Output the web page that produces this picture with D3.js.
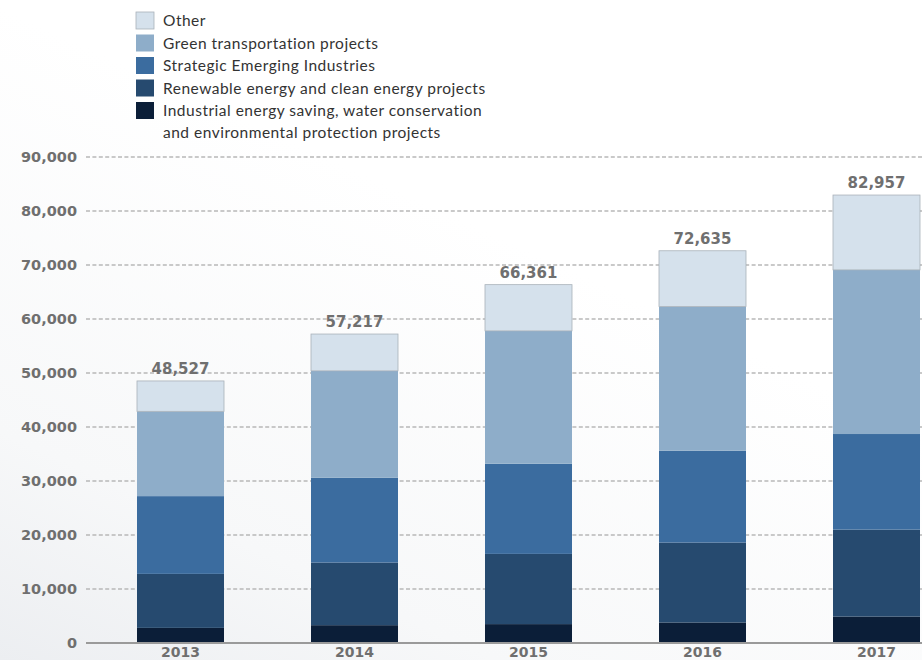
<!DOCTYPE html>
<html>
<head>
<meta charset="utf-8">
<script src="https://cdn.jsdelivr.net/npm/d3@7"></script>
<style>
  html, body { margin: 0; padding: 0; background: #ffffff; }
  svg { display: block; }
</style>
</head>
<body>
<svg id="chart" width="922" height="660"></svg>
<script>
// Years on the x axis
const years = ["2013", "2014", "2015", "2016", "2017"];

// Segment values per year, stacked bottom to top
const industrial = [2800, 3300, 3500, 3800, 4900];
const renewable  = [10000, 11600, 13000, 14800, 16100];
const strategic  = [14400, 15700, 16700, 17000, 17700];
const green      = [15700, 19800, 24600, 26700, 30400];
const other      = [5627, 6817, 8561, 10335, 13857];

// Y axis ticks
const yTicks = [0, 10000, 20000, 30000, 40000, 50000, 60000, 70000, 80000, 90000];

// Series names (bottom to top) and legend labels (top to bottom)
const seriesKeys = ["industrial", "renewable", "strategic", "green", "other"];
const legendLabels = [
  ["Other"],
  ["Green transportation projects"],
  ["Strategic Emerging Industries"],
  ["Renewable energy and clean energy projects"],
  ["Industrial energy saving, water conservation", "and environmental protection projects"]
];
const legendKeys = ["other", "green", "strategic", "renewable", "industrial"];

const colors = {
  other: "#d5e1ec",
  green: "#8eadc9",
  strategic: "#3b6c9f",
  renewable: "#264a6f",
  industrial: "#0b1e38"
};

const rows = years.map((yr, i) => ({
  year: yr,
  industrial: industrial[i],
  renewable: renewable[i],
  strategic: strategic[i],
  green: green[i],
  other: other[i]
}));

const svg = d3.select("#chart");
const W = 922, H = 660;

// soft backdrop shading
const defs = svg.append("defs");
const bg = defs.append("linearGradient").attr("id", "bg")
  .attr("x1", "0").attr("y1", "1").attr("x2", "0.45").attr("y2", "0.3");
bg.append("stop").attr("offset", "0").attr("stop-color", "#eceef1");
bg.append("stop").attr("offset", "0.35").attr("stop-color", "#f7f8f9");
bg.append("stop").attr("offset", "1").attr("stop-color", "#ffffff");
svg.append("rect").attr("width", W).attr("height", H).attr("fill", "url(#bg)");

const x = d3.scaleBand()
  .domain(years)
  .range([93.5, 963.5])
  .paddingInner(0.5)
  .paddingOuter(0.25);

const y = d3.scaleLinear()
  .domain([0, 90000])
  .range([643, 157]);

const numFont = "'DejaVu Sans', sans-serif";
const labelGrey = "#6f6f6f";

// dashed gridlines
svg.append("g")
  .selectAll("line")
  .data(yTicks.filter(d => d > 0))
  .join("line")
  .attr("x1", 86)
  .attr("x2", W)
  .attr("y1", d => y(d))
  .attr("y2", d => y(d))
  .attr("stroke", "#b8b8b8")
  .attr("stroke-width", 1.5)
  .attr("stroke-dasharray", "4,2.4");

// y axis labels
const yAxis = d3.axisLeft(y).tickValues(yTicks).tickSize(0).tickPadding(0)
  .tickFormat(d3.format(","));
const yG = svg.append("g").attr("transform", "translate(77,0)").call(yAxis);
yG.select(".domain").remove();
yG.selectAll("text")
  .attr("font-family", numFont)
  .attr("font-weight", "bold")
  .attr("font-size", "14.5px")
  .attr("fill", labelGrey);

// stacked bars
const stack = d3.stack().keys(seriesKeys);
const stacked = stack(rows);

svg.append("g")
  .selectAll("g")
  .data(stacked)
  .join("g")
  .attr("fill", d => colors[d.key])
  .selectAll("rect")
  .data(d => d.map(s => Object.assign(s, { key: d.key })))
  .join("rect")
  .attr("x", d => x(d.data.year))
  .attr("width", x.bandwidth())
  .attr("y", d => y(d[1]))
  .attr("height", d => y(d[0]) - y(d[1]))
  .attr("stroke", d => d.key === "other" ? "#a9b1b9" : "none")
  .attr("stroke-width", 0.8);

// totals above bars
const topLayer = stacked[stacked.length - 1];
svg.append("g")
  .selectAll("text")
  .data(topLayer)
  .join("text")
  .attr("x", d => x(d.data.year) + x.bandwidth() / 2)
  .attr("y", d => y(d[1]) - 7)
  .attr("text-anchor", "middle")
  .attr("font-family", numFont)
  .attr("font-weight", "bold")
  .attr("font-size", "15px")
  .attr("fill", labelGrey)
  .text(d => d3.format(",")(d[1]));

// x axis
svg.append("line")
  .attr("x1", 86).attr("x2", W)
  .attr("y1", y(0)).attr("y2", y(0))
  .attr("stroke", "#9a9a9a")
  .attr("stroke-width", 2);

const xAxis = d3.axisBottom(x).tickSize(0).tickPadding(0);
const xG = svg.append("g").attr("transform", `translate(0,${y(0)})`).call(xAxis);
xG.select(".domain").remove();
xG.selectAll("text")
  .attr("dy", null)
  .attr("y", 14)
  .attr("font-family", numFont)
  .attr("font-weight", "bold")
  .attr("font-size", "14px")
  .attr("fill", labelGrey);

// legend
const legend = svg.append("g").attr("transform", "translate(136,12)");
let yOff = 0;
legendKeys.forEach((k, i) => {
  const g = legend.append("g").attr("transform", `translate(0,${yOff})`);
  g.append("rect")
    .attr("width", 18).attr("height", 17)
    .attr("fill", colors[k])
    .attr("stroke", k === "other" ? "#a9b1b9" : "none")
    .attr("stroke-width", 0.8);
  legendLabels[i].forEach((line, j) => {
    g.append("text")
      .attr("x", 27)
      .attr("y", 14 + j * 21.5)
      .attr("font-family", "Lato, sans-serif")
      .attr("font-size", "15.5px")
      .attr("letter-spacing", "0.5px")
      .attr("fill", "#333333")
      .text(line);
  });
  yOff += 22.5;
});
</script>
</body>
</html>
